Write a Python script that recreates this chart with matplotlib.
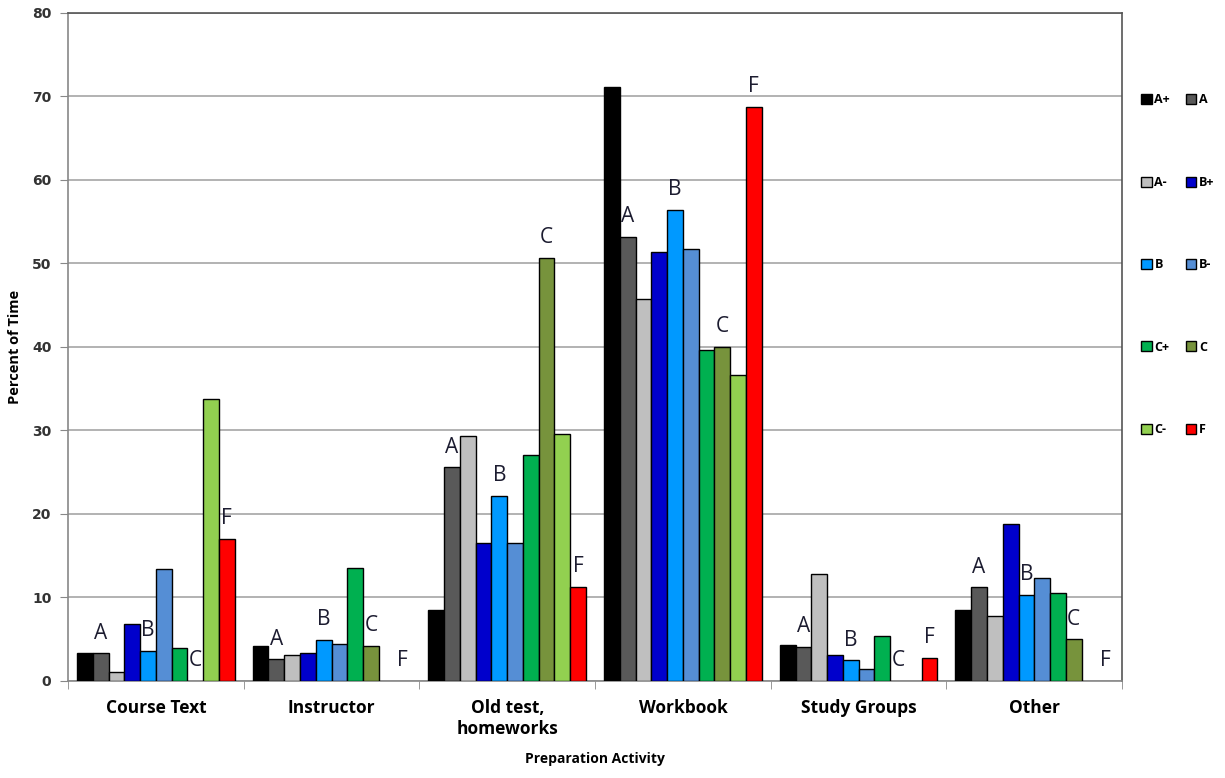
import numpy as np
import matplotlib.pyplot as plt
from matplotlib.patches import Patch

activities = ["Course Text", "Instructor", "Old test,\nhomeworks", "Workbook", "Study Groups", "Other"]
grades = ["A+", "A", "A-", "B+", "B", "B-", "C+", "C", "C-", "F"]

# percent of time per grade, one list per activity (same order as grades)
course_text = [3.3, 3.3, 1.1, 6.8, 3.6, 13.4, 4.0, 0.0, 33.8, 17.0]
instructor = [4.2, 2.6, 3.1, 3.3, 4.9, 4.4, 13.5, 4.2, 0.0, 0.0]
old_tests = [8.5, 25.6, 29.3, 16.5, 22.2, 16.5, 27.1, 50.7, 29.6, 11.3]
workbook = [71.1, 53.2, 45.8, 51.4, 56.4, 51.7, 39.6, 40.0, 36.6, 68.8]
study_groups = [4.3, 4.1, 12.8, 3.1, 2.5, 1.4, 5.4, 0.0, 0.0, 2.8]
other = [8.5, 11.2, 7.8, 18.8, 10.3, 12.3, 10.5, 5.0, 0.0, 0.0]

# letters written above selected bars
label_grades = ["A", "B", "C", "F"]

colors = ["#000000", "#595959", "#BFBFBF", "#0000CC", "#0099FF",
          "#558ED5", "#00B050", "#77933C", "#92D050", "#FF0000"]

data = np.array([course_text, instructor, old_tests, workbook, study_groups, other])

fig = plt.figure(figsize=(12.25, 7.78), dpi=100)
ax = fig.add_axes([0.0555, 0.1247, 0.8605, 0.8586])

x = np.arange(len(activities))
w = 1 / 11.15
for i, g in enumerate(grades):
    edges = ["black" if v > 0 else "none" for v in data[:, i]]
    ax.bar(x + (i - 4.5) * w, data[:, i], width=w, color=colors[i],
           edgecolor=edges, linewidth=1.0, zorder=3)

# letter labels
for j in range(len(activities)):
    for g in label_grades:
        i = grades.index(g)
        ax.annotate(g, (x[j] + (i - 4.5) * w, data[j, i]), xytext=(0, 10.5),
                    textcoords="offset points", ha="center", va="baseline",
                    fontsize=15, family="Open Sans", color="#1c1c30", zorder=4)

ax.set_xlim(-0.5, 5.5)
ax.set_ylim(0, 80)
ax.set_yticks(np.arange(0, 81, 10))
ax.yaxis.grid(True, color="#A6A6A6", linewidth=1.2, zorder=0)
ax.set_axisbelow(True)

ax.set_xticks(x)
ax.set_xticklabels(activities, fontsize=12.5, fontweight="bold", family="Open Sans")
ax.set_xticks(np.arange(-0.5, 6, 1), minor=True)
ax.tick_params(axis="x", which="major", length=0, pad=13)
ax.tick_params(axis="x", which="minor", length=6, color="#888888", direction="out")
ax.tick_params(axis="y", length=6, color="#888888", pad=6, labelsize=10, labelcolor="#333333")
for t in ax.get_yticklabels():
    t.set_fontweight("bold")

for s in ["left", "bottom"]:
    ax.spines[s].set_color("#888888")
    ax.spines[s].set_linewidth(1.2)
for s in ["top", "right"]:
    ax.spines[s].set_color("#555555")
    ax.spines[s].set_linewidth(1.2)

ax.set_ylabel("Percent of Time", fontsize=10.5, fontweight="bold", family="Open Sans", labelpad=7)
ax.set_xlabel("Preparation Activity", fontsize=10, fontweight="bold", family="Open Sans", labelpad=10)

# legend: row-wise order (A+ A / A- B+ / ...)
handles = [Patch(facecolor=c, edgecolor="black", linewidth=1.0) for c in colors]
order = [0, 2, 4, 6, 8, 1, 3, 5, 7, 9]
ax.legend([handles[k] for k in order], [grades[k] for k in order], ncol=2,
          loc="upper left", bbox_to_anchor=(1.0135, 0.887), frameon=False,
          prop={"family": "Open Sans", "weight": "bold", "size": 9},
          handlelength=0.85, handleheight=0.85, handletextpad=0.2,
          columnspacing=1.25, labelspacing=5.55, borderaxespad=0)

fig.savefig("out.png", dpi=100)
